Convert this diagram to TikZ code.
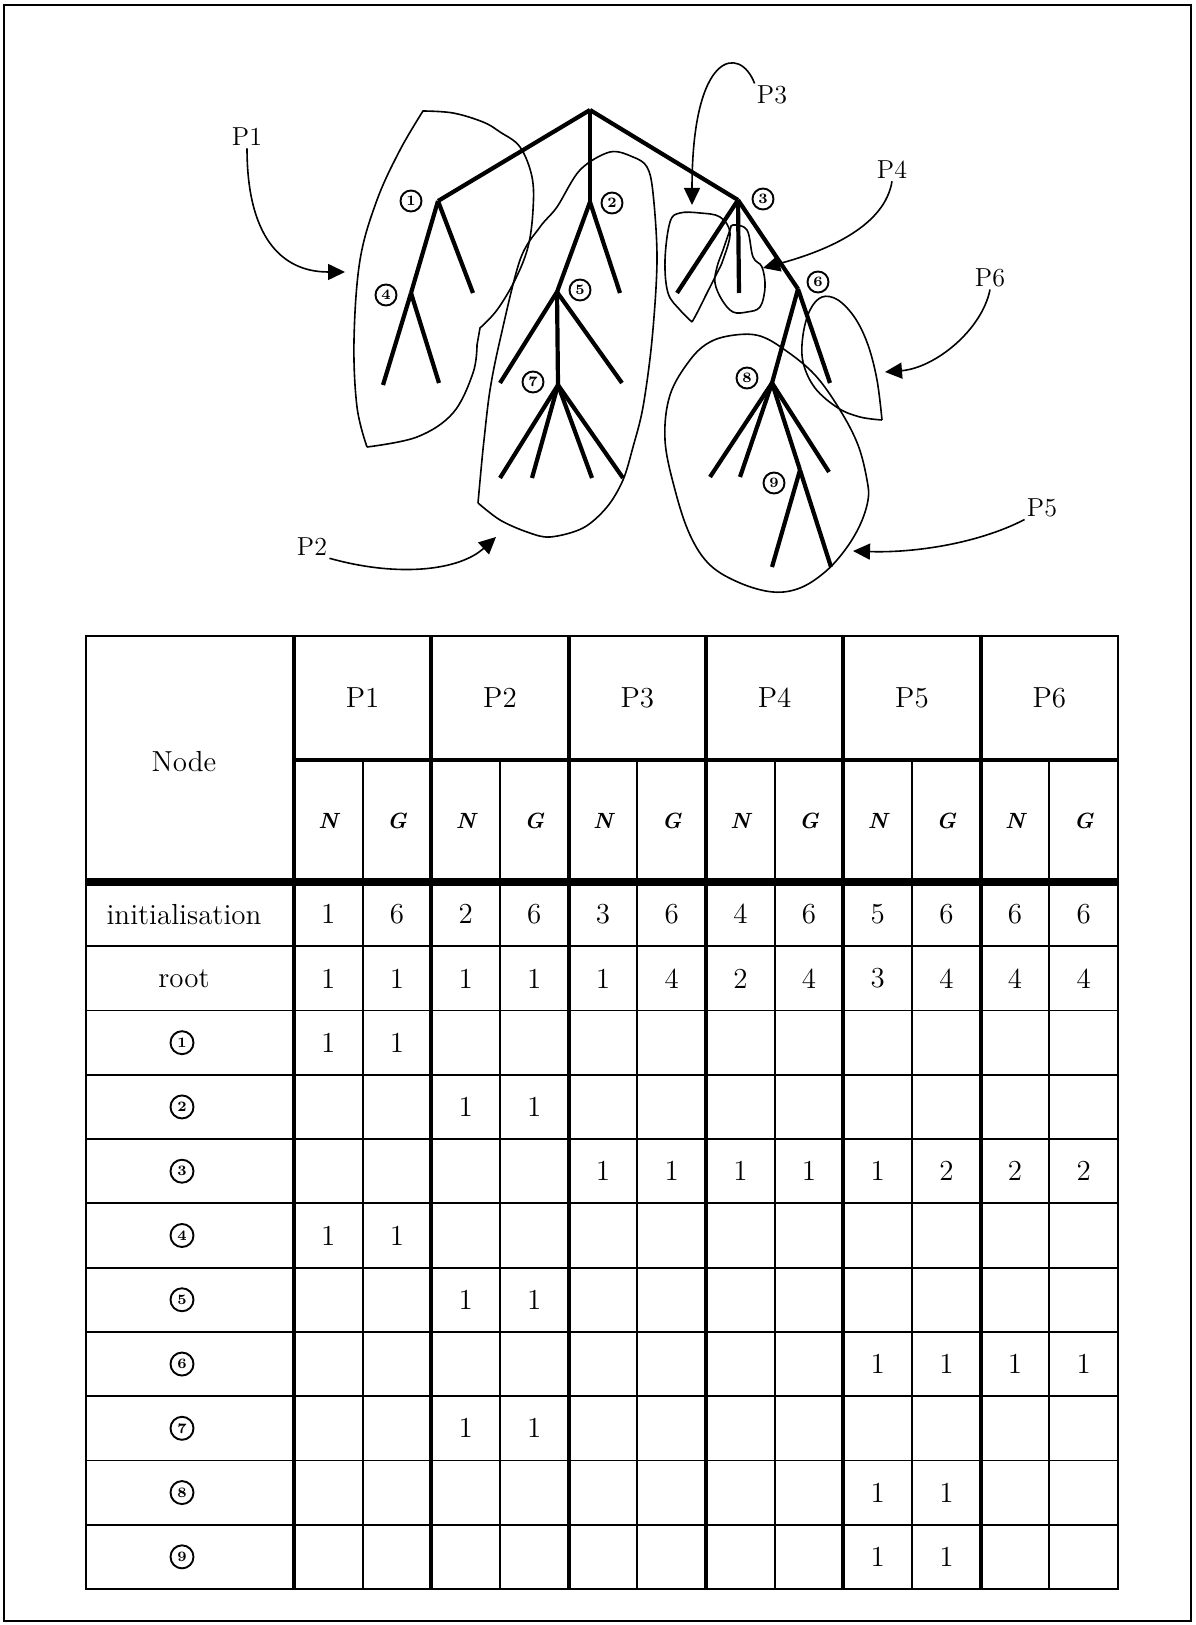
\documentclass[tikz,border=0pt]{standalone}
\usetikzlibrary{shapes, arrows.meta, positioning}

\begin{document}
\begin{tikzpicture}[x=0.5pt, y=-0.5pt,
    branch/.style={line width=2.1pt},
    zone/.style={line width=0.8pt},
    pointer/.style={line width=0.8pt, -{Triangle[length=8.5pt, width=8pt]}},
    plabel/.style={font=\fontsize{13}{15}\selectfont, inner sep=1pt},
    num/.style={circle, draw, line width=0.95pt, inner sep=0pt, minimum size=10.5pt,
        font=\bfseries\fontsize{7.2}{8}\selectfont},
    thinrule/.style={line width=0.9pt},
    thickrule/.style={line width=2pt},
    cell/.style={font=\fontsize{14.5}{16}\selectfont},
    subhead/.style={font=\bfseries\itshape\fontsize{11}{13}\selectfont}]

    \useasboundingbox (0,0) rectangle (1195,1625);
    \draw[line width=1.4pt] (4,5) rectangle (1191,1621);

    % --- tree ---
    \coordinate (root) at (590,110);
    \coordinate (n1) at (438,201);
    \coordinate (n2) at (590,202);
    \coordinate (n3) at (738,200);
    \coordinate (n4) at (411,293);
    \coordinate (n5) at (557,292);
    \coordinate (n6) at (798,289);
    \coordinate (n7) at (558,385);
    \coordinate (n8) at (772,383);
    \coordinate (n9) at (800,470);

    \draw[branch] (root) -- (n1);
    \draw[branch] (root) -- (n2);
    \draw[branch] (root) -- (n3);
    \draw[branch] (n1) -- (n4);
    \draw[branch] (n1) -- (473,293);
    \draw[branch] (n4) -- (383,385);
    \draw[branch] (n4) -- (439,383);
    \draw[branch] (n2) -- (n5);
    \draw[branch] (n2) -- (620,293);
    \draw[branch] (n5) -- (500,383);
    \draw[branch] (n5) -- (n7);
    \draw[branch] (n5) -- (622,383);
    \foreach \lx in {500,532,592,623}
        \draw[branch] (n7) -- (\lx,478);
    \draw[branch] (n3) -- (677,293);
    \draw[branch] (n3) -- (739,293);
    \draw[branch] (n3) -- (n6);
    \draw[branch] (n6) -- (n8);
    \draw[branch] (n6) -- (830,383);
    \draw[branch] (n8) -- (710,477);
    \draw[branch] (n8) -- (740,477);
    \draw[branch] (n8) -- (829,472);
    \draw[branch] (n8) -- (n9);
    \draw[branch] (n9) -- (772,567);
    \draw[branch] (n9) -- (831,567);

    % circled node numbers
    \foreach \k/\px/\py in {1/411/201, 2/612/203, 3/763/199, 4/386/295, 5/580/290,
                            6/818/282, 7/533/382, 8/747/378, 9/774/483}
        \node[num] (c\k) at (\px,\py) {\k};

    % --- partitions ---
    % P1
    \draw[zone] plot[smooth, tension=0.6] coordinates {(367,447) (357,407) (354,340) (360,260) (377,200) (400,150) (423,111)}
        -- plot[smooth, tension=0.6] coordinates {(423,111) (453,113) (483,122) (500,132) (520,147) (532,177) (533,210) (528,247) (515,280) (497,310) (480,328)}
        -- plot[smooth, tension=0.6] coordinates {(477,345) (473,373) (453,413) (417,437) (367,447)};
    % P2
    \draw[zone] plot[smooth, tension=0.55] coordinates {(478,503) (481,470) (484,440) (490,390) (500,340) (520,260) (540,227) (557,207) (580,170) (610,152) (633,157) (647,167) (653,193) (657,260) (652,340) (643,407) (633,447) (623,480) (607,507) (583,528) (550,537) (527,532) (500,520) (478,503)};
    % P3
    \draw[zone] plot[smooth, tension=0.6] coordinates {(692,322) (680,310) (668,293) (665,260) (670,222) (680,213) (700,213) (720,217) (730,233) (723,260) (717,273) (707,293) (697,313) (692,322)};
    % P4
    \draw[zone] plot[smooth cycle, tension=0.6] coordinates {(733,225) (747,230) (753,257) (762,267) (765,287) (760,307) (747,312) (733,312) (722,300) (715,283) (717,267) (723,250) (730,230)};
    % P5
    \draw[zone] plot[smooth cycle, tension=0.6] coordinates {(735,335) (760,336) (785,350) (815,375) (840,410) (858,445) (867,480) (868,500) (860,525) (845,550) (825,572) (800,588) (773,592) (740,583) (710,565) (690,535) (675,490) (665,440) (670,395) (690,360) (710,342)};
    % P6
    \draw[zone] plot[smooth, tension=0.6] coordinates {(882,420) (877,380) (868,345) (855,318) (838,300) (822,297) (810,310) (803,335) (803,362) (815,388) (838,408) (860,417) (882,420)};

    % labels and arrows
    \node[plabel] (P1) at (247,137) {P1};
    \node[plabel] (P2) at (312,547) {P2};
    \node[plabel] (P3) at (772,95) {P3};
    \node[plabel] (P4) at (892,170) {P4};
    \node[plabel] (P5) at (1042,508) {P5};
    \node[plabel] (P6) at (990,278) {P6};
    \coordinate (t1) at (345,272);
    \coordinate (t2) at (496,537);
    \coordinate (t3) at (692,205);
    \coordinate (t4) at (763,268);
    \coordinate (t5) at (853,551);
    \coordinate (t6) at (885,372);
    \draw[pointer] (P1.south) .. controls (247,235) and (280,272) .. (t1);
    \draw[pointer] (P2.south east) .. controls (400,578) and (460,570) .. (t2);
    \draw[pointer] (P3.north west) .. controls (740,45) and (692,50) .. (t3);
    \draw[pointer] (P4.south) .. controls (885,225) and (830,250) .. (t4);
    \draw[pointer] (P5.south west) .. controls (975,545) and (910,553) .. (t5);
    \draw[pointer] (P6.south) .. controls (982,330) and (935,368) .. (t6);

    % --- table ---
    \draw[thinrule] (86,636) rectangle (1118,1589);
    \foreach \k in {0,2,...,10}
        \draw[thickrule] ({294+68.67*\k},636) -- ({294+68.67*\k},1589);
    \foreach \k in {1,3,...,11}
        \draw[thinrule] ({294+68.67*\k},760) -- ({294+68.67*\k},1589);
    \draw[line width=2.4pt] (294,760) -- (1118,760);
    \draw[line width=4pt] (86,882) -- (1118,882);
    \foreach \r in {1,...,10}
        \draw[thinrule] (86,{882+64.27*\r}) -- (1118,{882+64.27*\r});

    % header
    \node[cell] (node) at (184,762) {Node};
    \foreach \p in {1,...,6} {
        \node[cell] (head\p) at ({294+137.33*(\p-0.5)},698) {P\p};
        \node[subhead] (N\p) at ({294+137.33*(\p-0.75)},821) {N};
        \node[subhead] (G\p) at ({294+137.33*(\p-0.25)},821) {G};
    }

    % first column
    \node[cell] (init) at (184,{882+64.27*0.5}) {initialisation};
    \node[cell] (rt) at (184,{882+64.27*1.5}) {root};
    \foreach \k in {1,...,9}
        \node[num, minimum size=11.5pt] (row\k) at (182,{882+64.27*(\k+1.5)}) {\k};

    % values
    \foreach \v [count=\c] in {1,6,2,6,3,6,4,6,5,6,6,6}
        \node[cell] (init-\c) at ({294+68.67*(\c-0.5)},{882+64.27*0.5}) {\v};
    \foreach \v [count=\c] in {1,1,1,1,1,4,2,4,3,4,4,4}
        \node[cell] (root-\c) at ({294+68.67*(\c-0.5)},{882+64.27*1.5}) {\v};
    \foreach \r/\c/\v in {3/1/1, 3/2/1, 4/3/1, 4/4/1, 5/5/1, 5/6/1, 5/7/1, 5/8/1,
                          5/9/1, 5/10/2, 5/11/2, 5/12/2, 6/1/1, 6/2/1, 7/3/1, 7/4/1,
                          8/9/1, 8/10/1, 8/11/1, 8/12/1, 9/3/1, 9/4/1, 10/9/1, 10/10/1,
                          11/9/1, 11/10/1}
        \node[cell] (v-\r-\c) at ({294+68.67*(\c-0.5)},{882+64.27*(\r-0.5)}) {\v};
\end{tikzpicture}
\end{document}
